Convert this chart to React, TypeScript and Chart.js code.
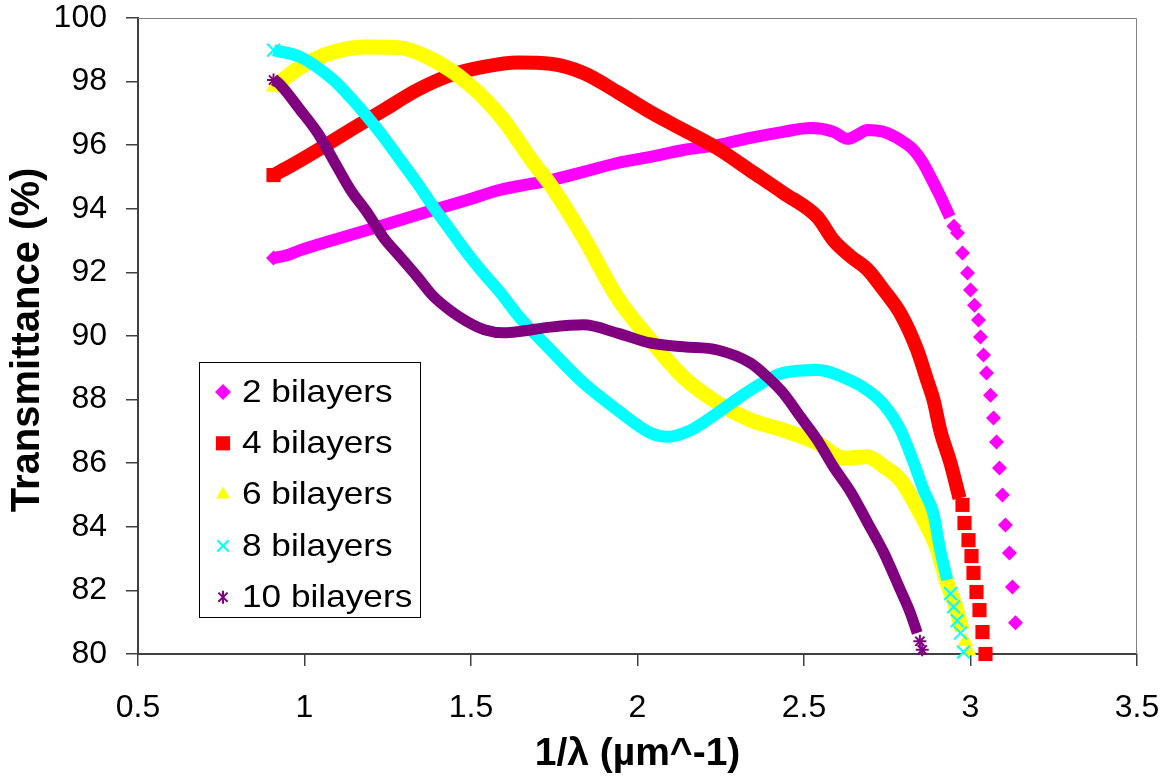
import React, { useEffect, useRef } from "react";
import { Chart, registerables } from "chart.js";

Chart.register(...registerables);

// ---------- data ----------
const seriesLabels = ["2 bilayers", "4 bilayers", "6 bilayers", "8 bilayers", "10 bilayers"];
const xTickValues = [0.5, 1, 1.5, 2, 2.5, 3, 3.5];
const yTickValues = [80, 82, 84, 86, 88, 90, 92, 94, 96, 98, 100];
const xTitle = "1/λ (µm^-1)";
const yTitle = "Transmittance (%)";

// dense part of each curve (markers overlap into a band) : [1/λ, T%]
const bilayers2Band: [number, number][] = [
  [0.907, 92.45], [0.95, 92.55], [0.988, 92.7], [1.087, 93.02], [1.189, 93.33], [1.288, 93.65],
  [1.387, 93.96], [1.489, 94.28], [1.589, 94.6], [1.688, 94.8], [1.739, 94.9], [1.838, 95.16],
  [1.94, 95.44], [2.039, 95.63], [2.138, 95.85], [2.24, 96.0], [2.339, 96.23], [2.438, 96.42],
  [2.52, 96.54], [2.589, 96.42], [2.63, 96.2], [2.66, 96.32], [2.69, 96.48], [2.739, 96.42],
  [2.79, 96.16], [2.829, 95.85], [2.86, 95.4], [2.88, 95.0], [2.909, 94.4], [2.938, 93.74],
];
// sparse end of each curve (separate markers)
const bilayers2Tail: [number, number][] = [
  [2.95, 93.45], [2.961, 93.24], [2.976, 92.61], [2.991, 91.98], [3.0, 91.45], [3.012, 90.97],
  [3.024, 90.5], [3.03, 89.97], [3.039, 89.4], [3.048, 88.84], [3.06, 88.14], [3.069, 87.42],
  [3.078, 86.67], [3.087, 85.85], [3.096, 85.0], [3.105, 84.06], [3.117, 83.18], [3.126, 82.11],
  [3.135, 80.98],
];

const bilayers4Band: [number, number][] = [
  [0.907, 95.06], [0.95, 95.3], [1.04, 95.85], [1.138, 96.48], [1.237, 97.1], [1.339, 97.74],
  [1.438, 98.2], [1.537, 98.46], [1.64, 98.6], [1.739, 98.56], [1.838, 98.27], [1.94, 97.67],
  [2.039, 97.04], [2.138, 96.48], [2.24, 95.9], [2.339, 95.2], [2.438, 94.5], [2.54, 93.74],
  [2.589, 93.0], [2.64, 92.5], [2.69, 92.1], [2.739, 91.45], [2.79, 90.7], [2.84, 89.56],
  [2.87, 88.6], [2.889, 87.99], [2.909, 87.04], [2.94, 86.0], [2.967, 84.9],
];
const bilayers4Tail: [number, number][] = [
  [2.976, 84.69], [2.982, 84.12], [2.994, 83.58], [3.003, 83.08], [3.009, 82.55],
  [3.018, 81.95], [3.027, 81.38], [3.036, 80.69], [3.045, 80.0],
];

const bilayers6Band: [number, number][] = [
  [0.907, 97.83], [0.988, 98.46], [1.087, 98.93], [1.189, 99.09], [1.288, 99.06], [1.387, 98.68],
  [1.489, 97.96], [1.589, 96.9], [1.688, 95.44], [1.739, 94.75], [1.838, 93.1], [1.94, 91.2],
  [2.039, 89.87], [2.138, 88.7], [2.24, 87.9], [2.339, 87.36], [2.438, 87.04], [2.54, 86.64],
  [2.62, 86.16], [2.69, 86.2], [2.739, 85.9], [2.79, 85.47], [2.84, 84.6], [2.86, 84.2],
  [2.889, 83.6], [2.9, 83.3], [2.931, 82.2], [2.955, 81.5], [2.975, 80.75],
];
const bilayers6Tail: [number, number][] = [
  [2.985, 80.4], [2.994, 80.1],
];

const bilayers8Band: [number, number][] = [
  [0.907, 98.99], [0.988, 98.77], [1.087, 98.05], [1.138, 97.5], [1.189, 96.89], [1.237, 96.26],
  [1.288, 95.53], [1.339, 94.8], [1.387, 94.06], [1.438, 93.33], [1.489, 92.6], [1.537, 91.98],
  [1.589, 91.35], [1.64, 90.66], [1.739, 89.56], [1.838, 88.52], [1.94, 87.67], [2.039, 86.95],
  [2.09, 86.83], [2.16, 87.04], [2.24, 87.58], [2.339, 88.3], [2.438, 88.84], [2.54, 88.93],
  [2.64, 88.6], [2.69, 88.3], [2.739, 87.85], [2.79, 87.04], [2.83, 86.0], [2.859, 85.16],
  [2.889, 84.4], [2.909, 83.27], [2.93, 82.33],
];
const bilayers8Tail: [number, number][] = [
  [2.94, 81.9], [2.949, 81.48], [2.96, 81.05], [2.97, 80.66], [2.979, 80.06],
];

const bilayers10Band: [number, number][] = [
  [0.907, 98.05], [0.918, 97.99], [0.988, 97.1], [1.04, 96.38], [1.087, 95.53], [1.138, 94.6],
  [1.189, 93.87], [1.237, 93.1], [1.288, 92.48], [1.339, 91.86], [1.387, 91.25], [1.438, 90.8],
  [1.489, 90.45], [1.54, 90.2], [1.6, 90.1], [1.65, 90.15], [1.739, 90.28], [1.838, 90.35],
  [1.94, 90.09], [2.039, 89.78], [2.138, 89.66], [2.24, 89.56], [2.339, 89.15], [2.39, 88.71],
  [2.438, 88.2], [2.49, 87.45], [2.54, 86.73], [2.589, 85.88], [2.64, 85.1], [2.69, 84.15],
  [2.739, 83.2], [2.79, 82.0], [2.819, 81.3], [2.84, 80.66],
];
const bilayers10Tail: [number, number][] = [
  [2.848, 80.4], [2.855, 80.13],
];

// ---------- styles ----------
const FONT = "'Liberation Sans', Arial, sans-serif";
const seriesColors = ["#FF00FF", "#FF0000", "#FFFF00", "#00FFFF", "#800080"];
const markerStyles = ["rectRot", "rect", "triangle", "crossRot", "star"];
const markerRadius = [7.5, 10, 9, 9, 6.5];
const bandWidth = [12, 14, 15, 12, 11];

const bands = [bilayers2Band, bilayers4Band, bilayers6Band, bilayers8Band, bilayers10Band];
const tails = [bilayers2Tail, bilayers4Tail, bilayers6Tail, bilayers8Tail, bilayers10Tail];

function drawMarker(ctx: CanvasRenderingContext2D, style: string, x: number, y: number, r: number, color: string) {
  ctx.save();
  ctx.fillStyle = color;
  ctx.strokeStyle = color;
  ctx.lineWidth = 2;
  ctx.beginPath();
  if (style === "rectRot") {
    ctx.moveTo(x, y - r); ctx.lineTo(x + r, y); ctx.lineTo(x, y + r); ctx.lineTo(x - r, y); ctx.closePath(); ctx.fill();
  } else if (style === "rect") {
    const s = Math.SQRT1_2 * r; ctx.rect(x - s, y - s, 2 * s, 2 * s); ctx.fill();
  } else if (style === "triangle") {
    const a = (2 * Math.PI) / 3;
    for (let k = 0; k < 3; k++) {
      const px = x + Math.sin(k * a) * r, py = y - Math.cos(k * a) * r;
      if (k === 0) ctx.moveTo(px, py); else ctx.lineTo(px, py);
    }
    ctx.closePath(); ctx.fill();
  } else if (style === "crossRot") {
    const s = Math.SQRT1_2 * r;
    ctx.moveTo(x - s, y - s); ctx.lineTo(x + s, y + s); ctx.moveTo(x - s, y + s); ctx.lineTo(x + s, y - s); ctx.stroke();
  } else if (style === "star") {
    const s = Math.SQRT1_2 * r;
    ctx.moveTo(x, y - r); ctx.lineTo(x, y + r);
    ctx.moveTo(x - s, y - s); ctx.lineTo(x + s, y + s); ctx.moveTo(x - s, y + s); ctx.lineTo(x + s, y - s); ctx.stroke();
  }
  ctx.restore();
}

const decorPlugin = {
  id: "decor",
  beforeDatasetsDraw(chart: any) {
    const { ctx, chartArea } = chart;
    ctx.save();
    ctx.strokeStyle = "#808080";
    ctx.lineWidth = 1;
    ctx.beginPath();
    ctx.moveTo(chartArea.left, chartArea.top + 0.5);
    ctx.lineTo(chartArea.right - 0.5, chartArea.top + 0.5);
    ctx.lineTo(chartArea.right - 0.5, chartArea.bottom);
    ctx.stroke();
    ctx.restore();
  },
  afterDraw(chart: any) {
    const { ctx, chartArea } = chart;
    ctx.save();
    // axis titles
    ctx.fillStyle = "#000";
    ctx.textAlign = "center";
    ctx.textBaseline = "middle";
    ctx.font = `bold 39px ${FONT}`;
    ctx.fillText(xTitle, (chartArea.left + chartArea.right) / 2, 754);
    ctx.save();
    ctx.translate(28, 340);
    ctx.rotate(-Math.PI / 2);
    ctx.font = `bold 40px ${FONT}`;
    ctx.fillText(yTitle, 0, 0);
    ctx.restore();

    // legend
    const bx = 199, by = 362, bw = 222, bh = 256;
    ctx.fillStyle = "#fff";
    ctx.fillRect(bx, by, bw, bh);
    ctx.strokeStyle = "#000";
    ctx.lineWidth = 1;
    ctx.strokeRect(bx + 0.5, by + 0.5, bw - 1, bh - 1);
    ctx.font = `32px ${FONT}`;
    ctx.textAlign = "left";
    ctx.textBaseline = "middle";
    seriesLabels.forEach((label, i) => {
      const cy = by + 30 + i * 51.3;
      drawMarker(ctx, markerStyles[i], bx + 24, cy, i === 1 ? 10 : i === 4 ? 6.5 : 8, seriesColors[i]);
      ctx.save();
      ctx.translate(bx + 43, cy + 1);
      ctx.scale(1.1, 1);
      ctx.fillStyle = "#000";
      ctx.fillText(label, 0, 0);
      ctx.restore();
    });
    ctx.restore();
  },
};

function zeroPadding(s: any) {
  s.paddingTop = 0;
  s.paddingBottom = 0;
  s.paddingLeft = 0;
  s.paddingRight = 0;
}

export default function App() {
  const canvasRef = useRef<HTMLCanvasElement | null>(null);

  useEffect(() => {
    if (!canvasRef.current) return;
    const datasets: any[] = [];
    bands.forEach((band, i) => {
      datasets.push({
        label: seriesLabels[i],
        data: band.map(([x, y]) => ({ x, y })),
        showLine: true,
        borderColor: seriesColors[i],
        backgroundColor: seriesColors[i],
        borderWidth: bandWidth[i],
        borderCapStyle: "butt",
        borderJoinStyle: "round",
        cubicInterpolationMode: "monotone",
        pointStyle: markerStyles[i],
        pointRadius: (c: any) => (c.dataIndex === 0 ? markerRadius[i] : 0),
        pointBackgroundColor: seriesColors[i],
        pointBorderColor: seriesColors[i],
        pointBorderWidth: i >= 3 ? 2 : 0,
        pointHoverRadius: 0,
        clip: false,
        order: 10 - 2 * i,
      });
    });
    tails.forEach((tail, i) => {
      datasets.push({
        label: seriesLabels[i] + " end",
        data: tail.map(([x, y]) => ({ x, y })),
        showLine: false,
        pointStyle: markerStyles[i],
        pointRadius: markerRadius[i],
        pointBackgroundColor: seriesColors[i],
        pointBorderColor: seriesColors[i],
        pointBorderWidth: i >= 3 ? 2 : 0,
        pointHoverRadius: 0,
        clip: false,
        order: 9 - 2 * i,
      });
    });

    const chart = new Chart(canvasRef.current, {
      type: "scatter",
      data: { datasets },
      options: {
        animation: false,
        responsive: true,
        maintainAspectRatio: false,
        events: [],
        layout: { padding: { top: 18, right: 32, left: 0, bottom: 0 }, autoPadding: false },
        plugins: { legend: { display: false }, tooltip: { enabled: false }, title: { display: false } },
        scales: {
          x: {
            type: "linear",
            min: 0.5,
            max: 3.5,
            afterBuildTicks: (s: any) => { s.ticks = xTickValues.map((v) => ({ value: v })); },
            afterFit: (s: any) => { s.height = 128; zeroPadding(s); },
            ticks: {
              font: { family: FONT, size: 32 },
              color: "#000",
              padding: 23,
              maxRotation: 0,
              autoSkip: false,
              callback: (v: any) => String(v),
            },
            grid: { drawOnChartArea: false, drawTicks: true, tickLength: 12, color: "#404040", lineWidth: 1.5 },
            border: { display: true, color: "#404040", width: 2 },
          },
          y: {
            type: "linear",
            min: 80,
            max: 100,
            afterBuildTicks: (s: any) => { s.ticks = yTickValues.map((v) => ({ value: v })); },
            afterFit: (s: any) => { s.width = 138; zeroPadding(s); },
            ticks: {
              font: { family: FONT, size: 32, lineHeight: 1 },
              color: "#000",
              padding: 19,
              autoSkip: false,
              callback: (v: any) => String(v),
            },
            grid: { drawOnChartArea: false, drawTicks: true, tickLength: 12, color: "#404040", lineWidth: 1.5 },
            border: { display: true, color: "#404040", width: 2 },
          },
        },
      },
      plugins: [decorPlugin],
    });
    return () => chart.destroy();
  }, []);

  return (
    <div style={{ position: "fixed", left: 0, top: 0, width: 1169, height: 782, background: "#fff" }}>
      <canvas ref={canvasRef} style={{ display: "block" }} />
    </div>
  );
}
